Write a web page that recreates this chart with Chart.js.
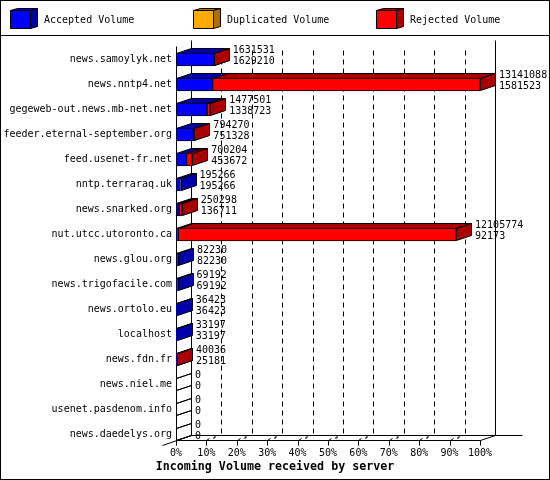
<!DOCTYPE html>
<html>
<head>
<meta charset="utf-8">
<title>Incoming Volume received by server</title>
<script src="https://cdn.jsdelivr.net/npm/chart.js@4"></script>
<style>
  html, body { margin: 0; padding: 0; background: #fff; }
  canvas { display: block; }
</style>
</head>
<body>
<canvas id="volumeChart" width="550" height="480"></canvas>
<script>
const servers = ['news.samoylyk.net', 'news.nntp4.net', 'gegeweb-out.news.mb-net.net', 'feeder.eternal-september.org',
    'feed.usenet-fr.net', 'nntp.terraraq.uk', 'news.snarked.org', 'nut.utcc.utoronto.ca', 'news.glou.org',
    'news.trigofacile.com', 'news.ortolo.eu', 'localhost', 'news.fdn.fr', 'news.niel.me', 'usenet.pasdenom.info', 'news.daedelys.org'];
const totalVolume = [1631531, 13141088, 1477501, 794270, 700204, 195266, 250298, 12105774, 82230, 69192, 36423, 33197, 40036, 0, 0, 0];
const acceptedVolume = [1629210, 1581523, 1338723, 751328, 453672, 195266, 136711, 92173, 82230, 69192, 36423, 33197, 25181, 0, 0, 0];
const rejectedVolume = [2321, 11559565, 138778, 42942, 246532, 0, 113587, 12013601, 0, 0, 0, 0, 14855, 0, 0, 0];
const tickLabels = ['0%', '10%', '20%', '30%', '40%', '50%', '60%', '70%', '80%', '90%', '100%'];
const legendLabels = ['Accepted Volume', 'Duplicated Volume', 'Rejected Volume'];
const legendColors = ['#0000ff', '#ffaa00', '#ff0000'];
const legendShades = ['#0000aa', '#aa7100', '#aa0000'];
const maxVolume = 13141088;

const monoFont = '"DejaVu Sans Mono", "Liberation Mono", monospace';
const depthX = 15;
const depthY = 5;

function line(ctx, x1, y1, x2, y2) {
    ctx.beginPath();
    ctx.moveTo(x1 + 0.5, y1 + 0.5);
    ctx.lineTo(x2 + 0.5, y2 + 0.5);
    ctx.stroke();
}

function face(ctx, points, color) {
    ctx.beginPath();
    points.forEach((p, i) => i ? ctx.lineTo(p[0] + 0.5, p[1] + 0.5) : ctx.moveTo(p[0] + 0.5, p[1] + 0.5));
    ctx.closePath();
    ctx.fillStyle = color;
    ctx.fill();
    ctx.stroke();
}

// frame, legend swatches and legend text
function drawHeader(ctx) {
    ctx.strokeStyle = '#000';
    ctx.lineWidth = 1;
    ctx.strokeRect(0.5, 0.5, 549, 479);
    line(ctx, 0, 35, 549, 35);
    ctx.font = '10px ' + monoFont;
    ctx.textBaseline = 'middle';
    ctx.textAlign = 'left';
    legendLabels.forEach((label, i) => {
        const x = 10 + i * 183;
        face(ctx, [[x, 10], [x + 7, 8], [x + 27, 8], [x + 20, 10]], legendShades[i]);
        face(ctx, [[x + 20, 10], [x + 27, 8], [x + 27, 26], [x + 20, 28]], legendShades[i]);
        face(ctx, [[x, 10], [x + 20, 10], [x + 20, 28], [x, 28]], legendColors[i]);
        ctx.fillStyle = '#000';
        ctx.fillText(label, x + 34, 20);
    });
}

// back wall, floor and tick marks of the fake 3d box
function drawBox(ctx, xScale) {
    const x0 = xScale.getPixelForValue(0);
    const x100 = xScale.getPixelForValue(maxVolume);
    const frontY = 440;
    const backY = 435;
    line(ctx, x0, 46, x0, frontY + 5);
    line(ctx, x0 + depthX, 40, x0 + depthX, backY);
    line(ctx, x100 + depthX, 40, x100 + depthX, backY);
    line(ctx, x0, frontY, x100, frontY);
    line(ctx, x0 + depthX, backY, x100 + 42, backY);
    line(ctx, x0 - 14, frontY + 5, x0 + depthX, backY);
    line(ctx, x100, frontY, x100 + depthX, backY);
    xScale.ticks.forEach((tick, i) => {
        const x = Math.round(xScale.getPixelForValue(tick.value));
        line(ctx, x, frontY, x, frontY + 5);
        if (i > 0 && i < xScale.ticks.length - 1) {
            line(ctx, x, frontY, x + 3, frontY - 2);
            line(ctx, x + 7, frontY - 2, x + 9, frontY - 3);
            line(ctx, x + 7, frontY - 3, x + 9, frontY - 4);
            ctx.setLineDash([5, 4]);
            line(ctx, x + depthX, 50, x + depthX, backY);
            ctx.setLineDash([]);
        }
    });
}

// top and right faces, the front is the normal Chart.js bar
function drawDepth(chart, ctx) {
    const shades = ['#0000aa', '#aa0000'];
    chart.data.datasets.forEach((dataset, d) => {
        chart.getDatasetMeta(d).data.forEach((bar, i) => {
            const left = Math.round(bar.base);
            const right = Math.round(bar.x);
            const top = bar.y - bar.height / 2;
            const bottom = top + bar.height - 1;
            if (totalVolume[i] === 0) {
                line(ctx, left, top, left + depthX, top - depthY);
                line(ctx, left, bottom, left + depthX, bottom - depthY);
                return;
            }
            if (dataset.data[i] === 0) return;
            face(ctx, [[left, top], [left + depthX, top - depthY], [right + depthX, top - depthY], [right, top]], shades[d]);
            face(ctx, [[right, top], [right + depthX, top - depthY], [right + depthX, bottom - depthY], [right, bottom]], shades[d]);
        });
    });
}

const boxPlugin = {
    id: 'box3d',
    afterLayout(chart) {
        // title is centred on the whole image, not on the padded box
        chart.titleBlock.left = 0;
        chart.titleBlock.right = chart.width;
    },
    beforeDatasetsDraw(chart) {
        const ctx = chart.ctx;
        ctx.save();
        ctx.strokeStyle = '#000';
        ctx.lineWidth = 1;
        drawHeader(ctx);
        drawBox(ctx, chart.scales.x);
        drawDepth(chart, ctx);
        ctx.restore();
    },
    afterDatasetsDraw(chart) {
        const ctx = chart.ctx;
        const xScale = chart.scales.x;
        const yScale = chart.scales.y;
        ctx.save();
        ctx.font = '10px ' + monoFont;
        ctx.fillStyle = '#000';
        ctx.textAlign = 'left';
        ctx.textBaseline = 'middle';
        servers.forEach((name, i) => {
            const x = xScale.getPixelForValue(totalVolume[i]) + depthX + 4;
            const y = yScale.getPixelForValue(i);
            ctx.fillText(String(totalVolume[i]), x, y - 9);
            ctx.fillText(String(acceptedVolume[i]), x, y + 2);
        });
        ctx.restore();
    }
};

Chart.defaults.font.family = monoFont;
Chart.defaults.font.size = 10;
Chart.defaults.color = '#000';

new Chart(document.getElementById('volumeChart').getContext('2d'), {
    type: 'bar',
    data: {
        labels: servers,
        datasets: [
            { label: legendLabels[0], data: acceptedVolume, backgroundColor: legendColors[0] },
            { label: legendLabels[2], data: rejectedVolume, backgroundColor: legendColors[2] }
        ]
    },
    options: {
        indexAxis: 'y',
        responsive: false,
        animation: false,
        devicePixelRatio: 1,
        barThickness: 13,
        borderColor: '#000',
        borderWidth: 1,
        borderSkipped: false,
        layout: { padding: { top: 47, right: 70, left: 0, bottom: 0 } },
        plugins: {
            legend: { display: false },
            tooltip: { enabled: false },
            title: {
                display: true,
                position: 'bottom',
                text: 'Incoming Volume received by server',
                color: '#000',
                font: { size: 11.67, weight: 'bold', lineHeight: 1.2 },
                padding: { top: 0, bottom: 6 }
            }
        },
        scales: {
            x: {
                stacked: true,
                min: 0,
                max: maxVolume,
                afterFit(axis) { axis.height = 13; },
                grid: { display: false, drawTicks: false },
                border: { display: false },
                ticks: {
                    stepSize: maxVolume / 10,
                    autoSkip: false,
                    maxRotation: 0,
                    padding: 0,
                    callback: (value, index) => tickLabels[index]
                }
            },
            y: {
                stacked: true,
                afterFit(axis) { axis.width = 176; },
                grid: { display: false, drawTicks: false },
                border: { display: false },
                ticks: { autoSkip: false, padding: 4 }
            }
        }
    },
    plugins: [boxPlugin]
});
</script>
</body>
</html>
